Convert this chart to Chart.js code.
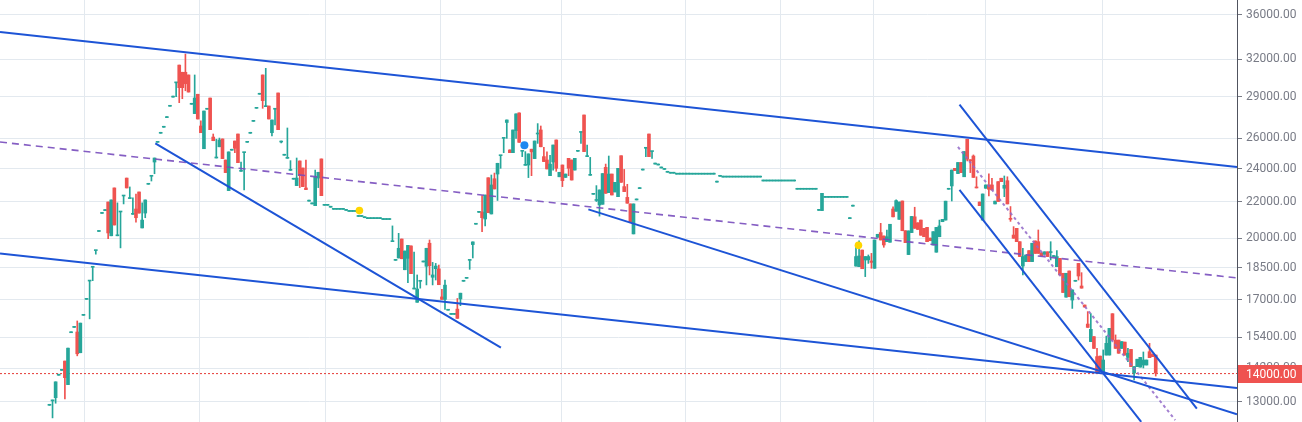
<!DOCTYPE html>
<html lang="en">
<head>
<meta charset="UTF-8" />
<title>Candles with trendlines</title>
<script src="https://cdn.jsdelivr.net/npm/chart.js@4.4.1/dist/chart.umd.min.js"></script>
<style>
  *{margin:0;padding:0;box-sizing:border-box}
  body{background:#fff;overflow:hidden}
  .wrap{position:relative;width:1302px;height:422px}
</style>
</head>
<body>
<div class="wrap"><canvas id="chart"></canvas></div>
<script>
// bar index of the first candle, the others follow one bar apart
const firstBar = 16;

const opens = [
  12880,13030,13140,13940,14120,14470,13600,15590,15810,15620,
  14790,16320,17020,17860,18520,19350,20350,21340,21500,21990,
  20120,22820,20120,21420,22340,23420,22190,21290,21590,22580,
  20540,21360,23040,23530,24430,25730,26350,26770,27460,28290,
  28980,30090,31530,30940,30940,30720,28440,27750,29200,26860,
  25300,28070,28910,26090,24690,25430,25960,24560,22660,25200,
  25820,26300,23840,25040,25730,26350,27190,28140,29200,30720,
  28260,28310,26390,28070,29300,25750,24870,24670,23900,23350,
  22960,24500,24050,22820,22040,21880,21780,23420,24630,21800,
  21800,21690,21570,21570,21570,21570,21510,21450,21450,21450,
  21170,21170,21100,21050,21050,21050,21050,21050,21000,21000,
  21000,19810,18860,18980,19950,18400,18960,19590,17490,16890,
  17850,18780,18570,19730,18040,18450,18440,17130,17020,16540,
  16360,16360,16590,17040,17850,17990,18860,19660,20740,21400,
  21420,21030,23440,21310,23380,23670,24840,26000,27110,25220,
  25040,26530,27800,25130,24220,24240,25270,24650,26300,26580,
  24780,24560,23570,24430,25890,23500,24240,23460,24670,24560,
  23920,25130,26410,27650,24780,23590,22440,22080,21820,21860,
  24090,22540,23670,22580,22300,24840,22900,22260,21880,20220,
  22110,22780,23920,25330,26300,25110,24300,24240,24050,23960,
  23780,23720,23720,23660,23660,23660,23660,23660,23660,23660,
  23660,23660,23660,23660,23660,23660,23170,23530,23480,23480,
  23480,23480,23480,23480,23480,23480,23480,23480,23480,23480,
  23480,23240,23240,23240,23240,23240,23240,23240,23240,23240,
  23240,23240,22740,22740,22740,22740,22740,22740,22740,21510,
  21500,22260,22260,22260,22260,22260,22260,22260,22260,21050,
  21750,18580,18550,19380,18880,18880,18830,18470,20040,20290,
  20110,19810,19780,21590,21460,21010,22050,20390,19150,20290,
  21150,20820,20970,20520,20570,20000,19640,19270,20070,20880,
  20970,22740,22940,24030,23700,24400,23500,25940,24580,24820,
  22880,21990,20970,22800,23000,23000,21880,23200,23410,22800,
  23260,21060,20160,20520,19810,18580,18800,19350,18800,19850,
  19810,19240,19160,19290,19250,19050,18550,18960,18230,17120,
  18340,16990,17850,18710,17630,16770,15950,15230,15430,14640,
  14660,14070,14700,14700,16390,15290,15290,14960,15210,14610,
  14920,14020,14260,14240,14320,14320,14830,14740,14700
];

const highs = [
  12880,13060,13700,13940,14120,14470,14970,15590,15810,16080,
  15990,16320,17020,17860,18520,19350,20350,21340,21500,21990,
  22110,22820,21940,21420,22340,23420,22880,22230,22460,22580,
  21940,22110,23040,23530,24690,25730,26350,26770,27460,28290,
  28980,30090,31530,30940,32460,30720,28440,30720,29200,27220,
  27940,28070,28910,26300,25940,26020,25960,24560,25090,25200,
  25820,26300,24430,25040,25730,26350,27190,28140,29200,30720,
  31260,28310,27290,28070,29300,25820,24870,26720,24520,23350,
  24690,24500,24050,24560,22040,21880,23920,23780,24630,21800,
  21800,21690,21570,21570,21570,21570,21510,21450,21450,21450,
  21170,21170,21100,21050,21050,21050,21050,21050,21000,21000,
  21000,20650,18860,20250,19950,19330,19620,19590,19280,18150,
  17850,18780,19470,19900,18760,18710,18630,17480,17910,16540,
  16360,16360,17060,17300,17850,17990,18860,19800,20740,21400,
  22360,22400,23440,23610,23730,24350,24840,26000,27290,25220,
  26580,27730,27800,25130,25110,24960,25270,25820,27030,26860,
  25400,25090,24870,25550,25890,23780,24240,23670,24670,24560,
  24670,25130,26410,27650,25550,24730,22440,22960,22700,23700,
  24300,24820,23670,23160,24030,24840,23960,23040,21880,21880,
  22110,22780,23920,25330,26300,25110,24300,24240,24050,23960,
  23780,23720,23720,23660,23660,23660,23660,23660,23660,23660,
  23660,23660,23660,23660,23660,23660,23170,23530,23480,23480,
  23480,23480,23480,23480,23480,23480,23480,23480,23480,23480,
  23480,23240,23240,23240,23240,23240,23240,23240,23240,23240,
  23240,23240,22740,22740,22740,22740,22740,22740,22740,21510,
  22500,22260,22260,22260,22260,22260,22260,22260,22260,21050,
  21750,19550,19860,19380,19050,19130,19210,19900,20200,20790,
  20110,20430,20740,21720,22110,21990,22050,20390,20380,21170,
  21690,20820,20970,20520,20570,20000,20340,20570,20970,21010,
  22040,22740,23920,24030,24400,24400,25110,25940,24580,24890,
  23500,21990,22460,23000,23680,23410,22040,23200,23410,23550,
  23500,21730,20610,20520,19810,19470,19130,19350,19730,19850,
  20430,19240,19290,19290,19810,19050,19350,18960,18230,18230,
  18340,17450,17850,18710,18260,16770,16480,16400,15430,14960,
  14660,14900,15450,15770,16390,15500,15290,15230,15210,14960,
  14920,14260,14540,14610,14820,14510,15160,14740,14700
];

const lows = [
  12880,12460,12950,13940,14120,13100,13600,15590,15810,14670,
  14790,16320,17020,16170,17880,19170,20350,21340,21500,19970,
  20120,20700,20120,19490,21880,22820,22190,21290,20860,21360,
  20540,21100,23040,23240,23690,25730,26350,26770,27460,28290,
  28980,29020,28560,28860,29470,29370,28440,27750,27360,26390,
  25300,28070,26600,25840,24690,25430,24650,23760,22660,25200,
  25040,24390,23840,22700,25730,26350,27190,28140,29200,28140,
  28260,27360,26160,26930,26600,25690,24870,24670,23900,23350,
  22960,22840,22900,22720,22040,21880,21780,22840,22360,21800,
  21800,21690,21570,21570,21570,21570,21510,21450,21450,21450,
  21170,21170,21100,21050,21050,21050,21050,21050,21000,21000,
  21000,19810,18860,18980,18940,18400,17790,18210,17490,16890,
  17530,18780,17680,18150,17680,17910,17690,17020,16580,16540,
  16360,16360,16190,16740,17850,17990,18420,18980,20740,21400,
  20340,20650,21380,21310,22760,22080,24030,25040,26000,25040,
  25040,26000,25730,24780,24220,23450,23570,24650,25660,25430,
  24460,23990,23570,23920,23840,23500,22900,23460,23570,23300,
  23920,25130,25660,25110,24780,23590,22440,22020,21190,21860,
  22500,22540,22400,22580,22300,23160,22600,21920,20880,20220,
  22110,22780,23920,24780,24780,24670,24300,24240,24050,23960,
  23780,23720,23720,23660,23660,23660,23660,23660,23660,23660,
  23660,23660,23660,23660,23660,23660,23170,23530,23480,23480,
  23480,23480,23480,23480,23480,23480,23480,23480,23480,23480,
  23480,23240,23240,23240,23240,23240,23240,23240,23240,23240,
  23240,23240,22740,22740,22740,22740,22740,22740,22740,21510,
  21500,22260,22260,22260,22260,22260,22260,22260,22260,21050,
  21750,18580,18550,18450,18070,18710,18470,18470,20040,19900,
  19520,19810,19780,21150,21460,21010,20390,19760,19150,20290,
  20520,20460,20150,20070,19810,19860,19640,19270,20070,20880,
  20970,22740,22050,23880,23700,23760,23500,24500,23760,23460,
  22820,21780,20970,22800,22340,22700,21880,22020,23200,22300,
  21880,20900,19990,19810,19050,18150,18800,18800,18800,19210,
  19210,19080,19160,19050,18880,19050,18550,18150,17330,17120,
  17140,16620,17850,17910,17530,16680,15810,15230,14960,14070,
  14070,14070,14700,14700,15290,14960,14770,14960,14700,14450,
  14260,13770,14260,14240,14210,14320,14600,14640,13910
];

const closes = [
  12880,13060,13700,13940,14120,13850,14970,15590,15810,14750,
  15990,16320,17020,17860,18520,19350,20350,21340,21500,20270,
  22110,20700,20120,21420,22340,22820,22190,21290,21100,21360,
  20970,22110,23040,23530,24690,25730,26350,26770,27460,28290,
  28980,30090,29710,29710,30020,29370,28440,28910,27360,26390,
  27940,28070,26600,25840,24690,25890,24650,23760,25090,25200,
  25330,24390,23840,25040,25730,26350,27190,28140,29200,28710,
  28260,27360,27290,28070,26600,25750,24870,24670,23900,23350,
  23420,23570,22900,22720,22040,21880,23480,23780,22360,21800,
  21800,21690,21570,21570,21570,21570,21510,21450,21450,21450,
  21170,21170,21100,21050,21050,21050,21050,21050,21000,21000,
  21000,19810,18860,19470,18940,19330,19620,18210,17490,17490,
  17850,18780,19470,18600,18150,18580,17690,17020,17670,16540,
  16360,16360,16190,17300,17850,17990,18860,19800,20740,21400,
  21100,22400,21380,23000,22760,24350,24840,26000,27290,25040,
  26580,27730,25730,25130,24220,24960,25090,25820,26300,25430,
  24460,23990,24300,25550,24030,23780,23260,23670,24030,23300,
  24670,25130,26410,25110,24780,23590,22440,22080,22700,23700,
  22500,23670,22400,23160,24030,23160,22600,21920,20880,21880,
  22110,22780,23920,25330,24780,25110,24300,24240,24050,23960,
  23780,23720,23720,23660,23660,23660,23660,23660,23660,23660,
  23660,23660,23660,23660,23660,23660,23170,23530,23480,23480,
  23480,23480,23480,23480,23480,23480,23480,23480,23480,23480,
  23480,23240,23240,23240,23240,23240,23240,23240,23240,23240,
  23240,23240,22740,22740,22740,22740,22740,22740,22740,21510,
  22500,22260,22260,22260,22260,22260,22260,22260,22260,21050,
  21750,19050,19080,18450,19050,19050,18760,19900,20200,19900,
  19640,20070,20740,21150,22070,21990,20390,19760,20380,21170,
  20520,20460,20150,20070,19810,19860,20340,20570,20650,21010,
  22040,22740,23920,23880,24400,23760,25110,24610,24500,23460,
  22820,21780,22460,23000,22740,22700,22040,22020,23200,22980,
  21880,21010,19990,19810,19050,19050,19130,18800,19730,19210,
  19210,19080,19290,19050,19290,19050,19050,18150,17330,18230,
  17140,17450,17850,18100,17530,16680,15810,15730,14960,14070,
  14070,14510,15160,15770,15290,14960,14770,15230,14700,14770,
  14260,14260,14540,14610,14510,14510,14600,14640,14020
];

// drawn lines: [bar, price] at each end
const channelTop    = [[0, 34400], [400.3, 24110]];
const channelBottom = [[0, 19210], [400.3, 13480]];
const wedgeLeft     = [[50.26, 25660], [162.1, 14990]];
const midFall       = [[190.4, 21570], [400.3, 12580]];
const steepUpper    = [[310.5, 28410], [387.3, 12765]];
const steepLower    = [[310.5, 22700], [369.3, 12330]];
const midDashed     = [[0, 25750], [400.3, 18010]];
const steepDashed   = [[310.0, 25420], [380.3, 12390]];

const yellowMarks = [[116.3, 21500], [277.8, 19620]];
const blueMarks   = [[169.7, 25530]];

const lastPrice  = 14000;
const priceTicks = [13000,14200,15400,17000,18500,20000,22000,24000,26000,29000,32000,36000];
const monthLines = [27.28,64.5,105.18,142.5,181.65,221.78,252.52,282.62,318.77,356.73];
const barRange   = [0, 400.3];
const priceRange = [12326, 37420];

const UP = '#26a69a', DOWN = '#ef5350', BLUE = '#1d54d6', GRID = '#e3e9ef';

const bodies = opens.map((o, i) => ({x: firstBar + i, y: [o, closes[i]]}));
const wicks  = opens.map((o, i) => ({x: firstBar + i, y: [lows[i], highs[i]]}));
const candleColors = opens.map((o, i) => closes[i] >= o ? UP : DOWN);
const pts = arr => arr.map(p => ({x: p[0], y: p[1]}));

function trend(points, color, width, dash) {
  return {type:'line', data:pts(points), borderColor:color, borderWidth:width, borderDash:dash || [],
          pointRadius:0, fill:false, tension:0, order:0};
}

const priceLabel = {
  id: 'priceLabel',
  afterDraw(chart) {
    const {ctx, chartArea} = chart;
    const y = Math.round(chart.scales.y.getPixelForValue(lastPrice));
    ctx.save();
    ctx.fillStyle = DOWN;
    ctx.fillRect(chartArea.right + 1, y - 9, chart.width - chartArea.right, 18);
    ctx.fillStyle = '#fff';
    ctx.font = "12px Roboto, 'Liberation Sans', Arial, sans-serif";
    ctx.textBaseline = 'middle';
    ctx.fillText(lastPrice.toFixed(2), chartArea.right + 9, y + 0.5);
    ctx.restore();
  }
};

Chart.defaults.font.family = "Roboto, 'Liberation Sans', Arial, sans-serif";
Chart.defaults.font.size = 12;

new Chart(document.getElementById('chart'), {
  type: 'bar',
  data: {
    datasets: [
      trend(channelTop, BLUE, 2),
      trend(channelBottom, BLUE, 2),
      trend(wedgeLeft, BLUE, 2),
      trend(midFall, BLUE, 2),
      trend(steepUpper, BLUE, 2),
      trend(steepLower, BLUE, 2),
      trend(midDashed, 'rgba(120,76,188,0.9)', 1.6, [7, 5]),
      trend(steepDashed, 'rgba(146,104,200,0.85)', 2, [3, 3]),
      {type:'line', data:[{x:barRange[0], y:lastPrice}, {x:barRange[1], y:lastPrice}],
       borderColor:'#e53935', borderWidth:1, borderDash:[2, 2], pointRadius:0, order:4},
      {type:'line', data:pts(yellowMarks), showLine:false, pointRadius:3.8,
       pointBackgroundColor:'#ffd600', pointBorderWidth:0, order:-1},
      {type:'line', data:pts(blueMarks), showLine:false, pointRadius:4,
       pointBackgroundColor:'#1e88f0', pointBorderWidth:0, order:-1},
      {type:'bar', data:bodies, backgroundColor:candleColors, barThickness:3,
       minBarLength:1, grouped:false, borderWidth:0, order:2},
      {type:'bar', data:wicks, backgroundColor:candleColors, barThickness:1,
       minBarLength:1, grouped:false, borderWidth:0, order:3}
    ]
  },
  options: {
    responsive: true,
    maintainAspectRatio: false,
    animation: false,
    events: [],
    layout: {padding: 0, autoPadding: false},
    plugins: {legend: {display: false}, tooltip: {enabled: false}},
    scales: {
      x: {
        type: 'linear', min: barRange[0], max: barRange[1], bounds: 'data', offset: false,
        grid: {color: GRID, drawTicks: false, offset: false},
        border: {display: false},
        ticks: {display: false},
        afterBuildTicks: s => { s.ticks = monthLines.map(v => ({value: v})); },
        afterFit: s => { s.paddingLeft = 0; s.paddingRight = 0; s.height = 0; }
      },
      y: {
        type: 'logarithmic', position: 'right', min: priceRange[0], max: priceRange[1], bounds: 'data',
        grid: {color: GRID, tickColor: '#787b86', tickLength: 5},
        border: {color: '#50535e'},
        ticks: {color: '#787b86', padding: 4, autoSkip: false, callback: v => Number(v).toFixed(2)},
        afterBuildTicks: s => { s.ticks = priceTicks.map(v => ({value: v})); },
        afterFit: s => { s.width = 65; s.paddingTop = 0; s.paddingBottom = 0; }
      }
    }
  },
  plugins: [priceLabel]
});
</script>
</body>
</html>
